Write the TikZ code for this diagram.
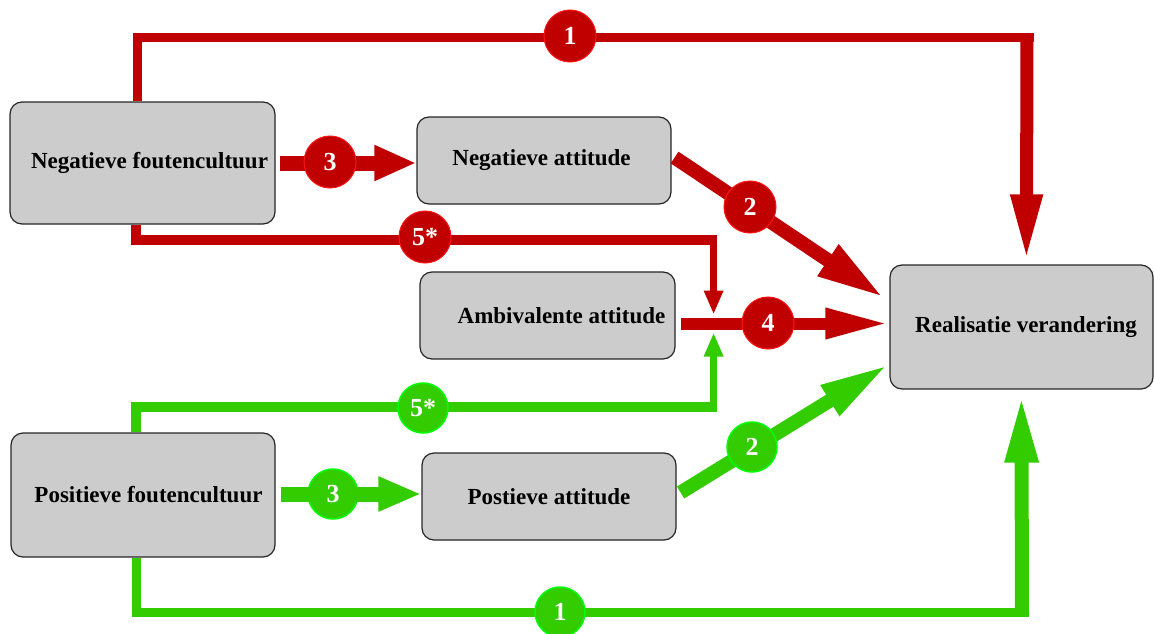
\documentclass[tikz,border=0pt]{standalone}
\usepackage{fontspec}
\setmainfont{Liberation Serif}
\usetikzlibrary{arrows.meta,calc}
\definecolor{myred}{RGB}{192,0,0}
\definecolor{redrim}{RGB}{255,20,20}
\definecolor{mygreen}{RGB}{51,204,0}
\definecolor{greenrim}{RGB}{0,255,0}
\definecolor{boxgray}{RGB}{204,204,204}
\begin{document}
\begin{tikzpicture}[x=1pt,y=-1pt,
  box/.style={draw=black!85, line width=1.2pt, fill=boxgray, rounded corners=12pt,
    font=\fontsize{23}{26}\selectfont\bfseries, inner sep=0pt},
  badge/.style={circle, minimum size=52pt, inner sep=0pt, text=white,
    font=\fontsize{26}{26}\selectfont\bfseries},
  redbadge/.style={badge, fill=myred, draw=redrim, line width=1pt},
  greenbadge/.style={badge, fill=mygreen, draw=greenrim, line width=1.5pt, minimum size=50pt},
  redline/.style={draw=myred, line width=9pt},
  greenline/.style={draw=mygreen, line width=9pt},
]
\useasboundingbox (0,0) rectangle (1154,634);

% boxes
\node[box, minimum width=265pt, minimum height=122pt] (NF) at (142.5,163) {\raisebox{3pt}{\hspace*{14pt}Negatieve foutencultuur}};
\node[box, minimum width=254pt, minimum height=87pt] (NA) at (544,160.5) {\raisebox{1pt}{Negatieve attitude\hspace*{5pt}}};
\node[box, minimum width=255pt, minimum height=87pt] (AA) at (547.5,315.5) {\hspace*{28pt}Ambivalente attitude};
\node[box, minimum width=264pt, minimum height=124pt] (PF) at (143,495) {\raisebox{2pt}{\hspace*{11pt}Positieve foutencultuur}};
\node[box, minimum width=254pt, minimum height=87pt] (PA) at (549,496.5) {Postieve attitude};
\node[box, minimum width=263pt, minimum height=124pt] (RV) at (1021.5,327) {\raisebox{3pt}{\hspace*{9pt}Realisatie verandering}};

% coordinates
\coordinate (r1a) at ($(NF.north west)+(128,0)$);
\coordinate (r1b) at ($(RV.north west)+(137,-3)$);
\coordinate (r5a) at ($(NF.south west)+(127,0)$);
\coordinate (r4a) at ($(AA.east)+(5,8)$);
\coordinate (r5b) at ($(r4a)+(33,0)$);
\coordinate (g5a) at ($(PF.north west)+(126,0)$);
\coordinate (g1a) at ($(PF.south west)+(126,0)$);
\coordinate (g1b) at ($(RV.south west)+(132,4)$);

% badge 3 green (behind shaft)
\node[greenbadge] (g3) at (333,494) {};

% red arrows
\draw[redline] (r1a) |- (1033.5,38);
\draw[redline, line width=13pt, -{Triangle[length=67pt,width=29pt]}] (1027,33.5) -- (r1b);
\draw[redline, line width=15pt, -{Triangle[length=42pt,width=33pt]}] ($(NF.east)+(4,0)$) -- (NF.east -| NA.west);
\draw[redline, line width=14pt, -{Triangle[length=68pt,width=34pt]}] ($(NA.east)+(3,-3)$) -- ($(RV.west)+(-5,-29)$);
\draw[redline, line width=10pt] (r5a) |- (716.5,240);
\draw[redline, line width=7pt, -{Triangle[length=24pt,width=18pt]}] (r5b |- 0,235) -- ($(r5b)+(0,-9)$);
\draw[redline, line width=12pt, -{Triangle[length=64pt,width=28pt]}] (r4a) -- (r4a -| RV.west);

% green arrows
\draw[greenline, line width=10pt] (g5a) |- (716.5,407);
\draw[greenline, line width=7pt, -{Triangle[length=24pt,width=18pt]}] (r5b |- 0,412) -- ($(r5b)+(0,9)$);
\draw[greenline, line width=15pt, -{Triangle[length=43pt,width=32pt]}] ($(PF.east)+(5,-1)$) -- ($(PF.east -| PA.west)+(0,-1)$);
\draw[greenline, line width=14pt, -{Triangle[length=70pt,width=32pt]}] ($(PA.east)+(4,-4)$) -- ($(RV.west)+(0,37)$);
\draw[greenline] (g1a) |- (1029,612);
\draw[greenline, line width=14pt, -{Triangle[length=69pt,width=30pt]}] (1022,616.5) -- (g1b);

% badges
\node[redbadge] (b1) at (570,36) {1};
\node[redbadge] (b3) at (330,162) {3};
\node[redbadge] (b5) at (425,237) {5*};
\node[redbadge] (b2) at (750,207) {2};
\node[redbadge] (b4) at (768,323) {4};
\node[greenbadge] (c5) at (423,408) {5*};
\node[badge] (g3t) at (g3) {3};
\node[greenbadge] (c2) at (752,447) {2};
\node[greenbadge] (c1) at (560,612) {1};
\end{tikzpicture}
\end{document}
